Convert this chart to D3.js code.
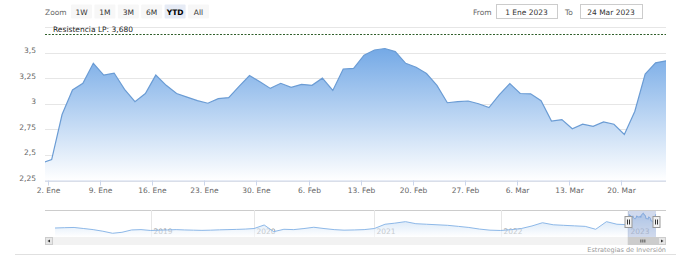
<!DOCTYPE html>
<html>
<head>
<meta charset="utf-8">
<script src="https://cdn.jsdelivr.net/npm/d3@7"></script>
<style>
  body { margin: 0; background: #fff; }
  svg { display: block; font-family: "DejaVu Sans", Verdana, sans-serif; }
</style>
</head>
<body>
<div id="chart"></div>
<script>
// trading days shown (first one is the last session of 2022, clipped at the left edge)
const fechas = ["2022-12-30",
  "2023-01-02","2023-01-03","2023-01-04","2023-01-05","2023-01-06",
  "2023-01-09","2023-01-10","2023-01-11","2023-01-12","2023-01-13",
  "2023-01-16","2023-01-17","2023-01-18","2023-01-19","2023-01-20",
  "2023-01-23","2023-01-24","2023-01-25","2023-01-26","2023-01-27",
  "2023-01-30","2023-01-31","2023-02-01","2023-02-02","2023-02-03",
  "2023-02-06","2023-02-07","2023-02-08","2023-02-09","2023-02-10",
  "2023-02-13","2023-02-14","2023-02-15","2023-02-16","2023-02-17",
  "2023-02-20","2023-02-21","2023-02-22","2023-02-23","2023-02-24",
  "2023-02-27","2023-02-28","2023-03-01","2023-03-02","2023-03-03",
  "2023-03-06","2023-03-07","2023-03-08","2023-03-09","2023-03-10",
  "2023-03-13","2023-03-14","2023-03-15","2023-03-16","2023-03-17",
  "2023-03-20","2023-03-21","2023-03-22","2023-03-23","2023-03-24"];
const precios = [2.42,
  2.455, 2.895, 3.135, 3.20, 3.395,
  3.28, 3.30, 3.14, 3.02, 3.10,
  3.28, 3.18, 3.10, 3.065, 3.03,
  3.005, 3.05, 3.06, 3.17, 3.275,
  3.215, 3.15, 3.20, 3.16, 3.19,
  3.18, 3.25, 3.13, 3.34, 3.345,
  3.475, 3.525, 3.54, 3.51, 3.395,
  3.357, 3.295, 3.18, 3.01, 3.02,
  3.027, 3.00, 2.962, 3.09, 3.197,
  3.10, 3.097, 3.03, 2.83, 2.845,
  2.755, 2.80, 2.78, 2.822, 2.80,
  2.70, 2.925, 3.29, 3.40, 3.42];
const resistencia = 3.68;
const yTicks = [2.25, 2.5, 2.75, 3, 3.25, 3.5, 3.75];
const meses = ["Ene","Feb","Mar","Abr","May","Jun","Jul","Ago","Sep","Oct","Nov","Dic"];

// navigator: monthly history 2018-2022, then the 2023 sessions
const navMeses = [
  "2018-03","2018-04","2018-05","2018-06","2018-07","2018-08","2018-09","2018-10","2018-11","2018-12",
  "2019-01","2019-02","2019-03","2019-04","2019-05","2019-06","2019-07","2019-08","2019-09","2019-10","2019-11","2019-12",
  "2020-01","2020-02","2020-03","2020-04","2020-05","2020-06","2020-07","2020-08","2020-09","2020-10","2020-11","2020-12",
  "2021-01","2021-02","2021-03","2021-04","2021-05","2021-06","2021-07","2021-08","2021-09","2021-10","2021-11","2021-12",
  "2022-01","2022-02","2022-03","2022-04","2022-05","2022-06","2022-07","2022-08","2022-09","2022-10","2022-11","2022-12"];
const navValores = [
  2.15, 2.18, 2.20, 2.10, 2.00, 1.85, 1.66, 1.75, 1.97, 2.00,
  1.92, 1.95, 1.97, 2.00, 1.97, 1.95, 1.93, 1.95, 1.98, 2.00, 2.02, 2.05,
  2.10, 2.43, 1.81, 2.03, 2.00, 2.10, 2.22, 2.10, 2.00, 1.95, 1.97, 2.00,
  2.10, 2.50, 2.60, 2.74, 2.55, 2.50, 2.45, 2.40, 2.30, 2.20, 2.05, 1.95,
  1.92, 2.00, 2.10, 2.34, 2.64, 2.45, 2.40, 2.35, 2.30, 2.03, 2.74, 2.50];
const navAnios = ["2019", "2020", "2021", "2022", "2023"];

const botones = ["1W", "1M", "3M", "6M", "YTD", "All"];
const botonActivo = "YTD";
const desde = "1 Ene 2023", hasta = "24 Mar 2023";

const W = 676, H = 261;
const plot = {left: 45, right: 666, top: 27, bottom: 180.5};

const svg = d3.select("#chart").append("svg")
  .attr("width", W).attr("height", H);

const parse = d3.timeParse("%Y-%m-%d");
const data = fechas.map((f, i) => ({i: i, date: parse(f), v: precios[i]}));

// ordinal-style x: one slot per session
const x = d3.scaleLinear().domain([0.36, data.length - 1]).range([plot.left, plot.right]);
const y = d3.scaleLinear().domain([2.25, 3.75]).range([plot.bottom, plot.top]);

const defs = svg.append("defs");
defs.append("clipPath").attr("id", "clip")
  .append("rect").attr("x", plot.left).attr("y", plot.top)
  .attr("width", plot.right - plot.left).attr("height", plot.bottom - plot.top);
const grad = defs.append("linearGradient").attr("id", "fillGrad")
  .attr("x1", 0).attr("y1", 0).attr("x2", 0).attr("y2", 1);
grad.append("stop").attr("offset", "0%").attr("stop-color", "#74a9e6");
grad.append("stop").attr("offset", "100%").attr("stop-color", "#ffffff");
const navGrad = defs.append("linearGradient").attr("id", "navGrad")
  .attr("x1", 0).attr("y1", 0).attr("x2", 0).attr("y2", 1);
navGrad.append("stop").attr("offset", "0%").attr("stop-color", "#a9cbef");
navGrad.append("stop").attr("offset", "100%").attr("stop-color", "#ffffff");

// gridlines
svg.append("g").selectAll("line").data(yTicks).join("line")
  .attr("x1", plot.left).attr("x2", plot.right)
  .attr("y1", d => Math.round(y(d)) + 0.5).attr("y2", d => Math.round(y(d)) + 0.5)
  .attr("stroke", "#e6e6e6").attr("stroke-width", 1);

// area + line
const area = d3.area().x(d => x(d.i)).y0(plot.bottom).y1(d => y(d.v));
const line = d3.line().x(d => x(d.i)).y(d => y(d.v));
const serie = svg.append("g").attr("clip-path", "url(#clip)");
serie.append("path").datum(data).attr("d", area).attr("fill", "url(#fillGrad)");
serie.append("path").datum(data).attr("d", line)
  .attr("fill", "none").attr("stroke", "#6b9cd4").attr("stroke-width", 1.2);

// resistance plot line
svg.append("line")
  .attr("x1", plot.left).attr("x2", plot.right)
  .attr("y1", Math.round(y(resistencia)) + 0.5).attr("y2", Math.round(y(resistencia)) + 0.5)
  .attr("stroke", "#2f5f2a").attr("stroke-width", 1).attr("stroke-dasharray", "2,1.5");
svg.append("text")
  .attr("x", plot.left + 8).attr("y", y(resistencia) - 2.5)
  .attr("font-size", 7.5).attr("fill", "#222")
  .text("Resistencia LP: " + d3.format(".3f")(resistencia).replace(".", ","));

// y labels
svg.append("g").selectAll("text").data(yTicks.filter(t => t < 3.75)).join("text")
  .attr("x", 36).attr("y", d => y(d) + 0.5)
  .attr("text-anchor", "end").attr("font-size", 7.5).attr("fill", "#666")
  .text(d => String(d).replace(".", ","));

// x axis
svg.append("line")
  .attr("x1", plot.left).attr("x2", plot.right)
  .attr("y1", plot.bottom + 0.5).attr("y2", plot.bottom + 0.5)
  .attr("stroke", "#ccd6eb");
const lunes = data.filter(d => d.date.getDay() === 1);
const xt = svg.append("g").selectAll("g").data(lunes).join("g")
  .attr("transform", d => `translate(${Math.round(x(d.i - 0.33)) + 0.5},0)`);
xt.append("line").attr("y1", plot.bottom).attr("y2", plot.bottom + 5).attr("stroke", "#ccd6eb");
xt.append("text").attr("y", plot.bottom + 12.5).attr("text-anchor", "middle")
  .attr("font-size", 7.5).attr("fill", "#666")
  .text(d => d.date.getDate() + ". " + meses[d.date.getMonth()]);

// range selector
svg.append("text").attr("x", 45).attr("y", 14.5).attr("font-size", 7.5).attr("fill", "#666").text("Zoom");
const bt = svg.append("g").selectAll("g").data(botones).join("g")
  .attr("transform", (d, i) => `translate(${71 + i * 23.4},4.5)`);
bt.append("rect").attr("width", 21).attr("height", 14).attr("rx", 1)
  .attr("fill", d => d === botonActivo ? "#e6ebf5" : "#f7f7f7");
bt.append("text").attr("x", 10.5).attr("y", 10).attr("text-anchor", "middle")
  .attr("font-size", 7.5)
  .attr("font-weight", d => d === botonActivo ? "bold" : "normal")
  .attr("fill", d => d === botonActivo ? "#000" : "#333")
  .text(d => d);

// date inputs
const inputs = [{lab: "From", lx: 473, bx: 496, bw: 61, val: desde},
                {lab: "To", lx: 565, bx: 580, bw: 62, val: hasta}];
const inp = svg.append("g").selectAll("g").data(inputs).join("g");
inp.append("text").attr("x", d => d.lx).attr("y", 14.5).attr("font-size", 7.5).attr("fill", "#666").text(d => d.lab);
inp.append("rect").attr("x", d => d.bx + 0.5).attr("y", 4.5).attr("width", d => d.bw).attr("height", 14)
  .attr("fill", "#fff").attr("stroke", "#cccccc");
inp.append("text").attr("x", d => d.bx + d.bw / 2).attr("y", 14.5).attr("text-anchor", "middle")
  .attr("font-size", 7.5).attr("fill", "#333").text(d => d.val);

// navigator
const nav = {left: 55, right: 656, top: 210, bottom: 237};
const parseM = d3.timeParse("%Y-%m");
const navData = navMeses.map((m, i) => ({date: parseM(m), v: navValores[i]}))
  .concat(data.slice(1).map(d => ({date: d.date, v: d.v})));
const xn = d3.scaleTime()
  .domain([parseM("2018-03"), parse("2019-01-01"), parse("2020-01-01"), parse("2021-01-01"),
           parse("2022-01-01"), parse("2023-01-01"), parse("2023-03-24")])
  .range([nav.left, 150.7, 254, 374.3, 500.7, 627.7, nav.right]);
const yn = d3.scaleLinear().domain([1.5, 3.6]).range([235, 212.4]);

svg.append("line").attr("x1", plot.left).attr("x2", plot.right)
  .attr("y1", nav.top + 0.5).attr("y2", nav.top + 0.5).attr("stroke", "#cccccc");
const anios = svg.append("g").selectAll("g").data(navAnios).join("g")
  .attr("transform", d => `translate(${Math.round(xn(parse(d + "-01-01"))) + 0.5},0)`);
anios.append("line").attr("y1", nav.top).attr("y2", nav.bottom).attr("stroke", "#e6e6e6");
svg.append("path").datum(navData)
  .attr("d", d3.area().x(d => xn(d.date)).y0(nav.bottom).y1(d => yn(d.v)))
  .attr("fill", "url(#navGrad)").attr("opacity", 0.6);
svg.append("path").datum(navData)
  .attr("d", d3.line().x(d => xn(d.date)).y(d => yn(d.v)))
  .attr("fill", "none").attr("stroke", "#8db8e8").attr("stroke-width", 1);
anios.append("text").attr("x", 2).attr("y", 233.5).attr("font-size", 7.5).attr("fill", "#888").text(d => d);

// selected range mask + handles
const selIni = xn(parse("2023-01-01")), selFin = xn(parse("2023-03-24"));
svg.append("rect").attr("x", selIni).attr("y", nav.top + 1).attr("width", selFin - selIni)
  .attr("height", nav.bottom - nav.top - 1).attr("fill", "rgba(102,133,194,0.3)");
const handles = svg.append("g").selectAll("g").data([selIni, selFin]).join("g")
  .attr("transform", d => `translate(${Math.round(d) + 0.5},0)`);
handles.append("rect").attr("x", -3.5).attr("y", 216.5).attr("width", 7).attr("height", 11)
  .attr("fill", "#f2f2f2").attr("stroke", "#999");
handles.append("path").attr("d", "M-1,219.5V224.5M1,219.5V224.5").attr("stroke", "#333");

// scrollbar
svg.append("rect").attr("x", plot.left).attr("y", 237).attr("width", plot.right - plot.left).attr("height", 8)
  .attr("fill", "#f2f2f2");
svg.append("rect").attr("x", selIni).attr("y", 237).attr("width", plot.right - 8 - selIni).attr("height", 8)
  .attr("fill", "#cccccc");
svg.append("path").attr("d", `M${(selIni + plot.right - 8) / 2 - 2},239.5v3M${(selIni + plot.right - 8) / 2},239.5v3M${(selIni + plot.right - 8) / 2 + 2},239.5v3`)
  .attr("stroke", "#333").attr("stroke-width", 0.8);
[plot.left, plot.right - 8].forEach((bx, k) => {
  svg.append("rect").attr("x", bx + 0.5).attr("y", 237.5).attr("width", 7).attr("height", 7)
    .attr("fill", "#e6e6e6").attr("stroke", "#cccccc");
  const cx = bx + 4;
  svg.append("path")
    .attr("d", k === 0 ? `M${cx + 1},239.5L${cx - 1.5},241L${cx + 1},242.5Z` : `M${cx - 1},239.5L${cx + 1.5},241L${cx - 1},242.5Z`)
    .attr("fill", "#333");
});

// footer
svg.append("line").attr("x1", 15).attr("x2", W).attr("y1", 254.5).attr("y2", 254.5).attr("stroke", "#e0e0e0");
svg.append("text").attr("x", plot.right).attr("y", 251.5).attr("text-anchor", "end")
  .attr("font-size", 6.5).attr("fill", "#999").text("Estrategias de Inversión");
</script>
</body>
</html>
